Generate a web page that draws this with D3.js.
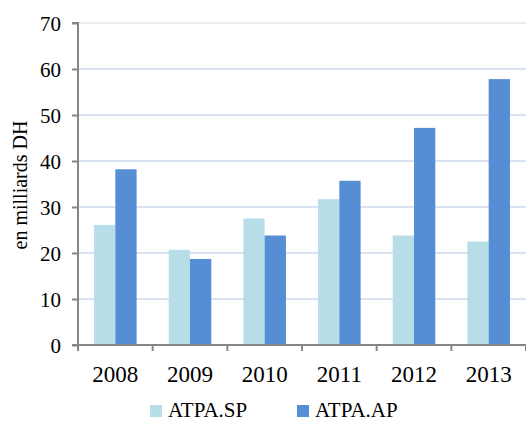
<!DOCTYPE html>
<html><head><meta charset="utf-8">
<script src="https://cdn.jsdelivr.net/npm/d3@7"></script>
<style>body{margin:0;background:#fff}svg{display:block}</style>
</head><body>
<svg id="c" width="526" height="421" font-family="Liberation Serif"></svg>
<script>
const years = ["2008","2009","2010","2011","2012","2013"];
const seriesNames = ["ATPA.SP","ATPA.AP"];
const atpaSP = [26.1, 20.7, 27.5, 31.7, 23.8, 22.5];
const atpaAP = [38.2, 18.7, 23.8, 35.7, 47.2, 57.8];
const yTicks = [0,10,20,30,40,50,60,70];
const colors = ["#b7dee8","#558ed5"];
const FONT = "Liberation Serif";

const svg = d3.select("#c");
const L = 78, R = 526, T = 23, B = 345;
const x0 = d3.scaleBand().domain(years).range([L, R]).padding(0);
const groupW = x0.bandwidth() * 0.57;
const x1 = d3.scaleBand().domain(seriesNames).range([0, groupW]).padding(0);
const y = d3.scaleLinear().domain([0, 70]).range([B, T]);

// gridlines
svg.append("g").selectAll("line").data(yTicks.filter(d => d > 0)).join("line")
  .attr("x1", L).attr("x2", R).attr("y1", d => y(d)).attr("y2", d => y(d))
  .attr("stroke", d => d === 70 ? "#ececec" : "#d9e2f3").attr("stroke-width", 2);

// bars
const data = years.map((yr, i) => ({yr, vals: [atpaSP[i], atpaAP[i]]}));
const g = svg.append("g").selectAll("g").data(data).join("g")
  .attr("transform", d => `translate(${x0(d.yr) + (x0.bandwidth() - groupW) / 2},0)`);
g.selectAll("rect").data(d => d.vals.map((v, j) => ({v, s: seriesNames[j], j}))).join("rect")
  .attr("x", d => x1(d.s)).attr("width", x1.bandwidth())
  .attr("y", d => y(d.v)).attr("height", d => B - y(d.v))
  .attr("fill", d => colors[d.j]);

// y axis
const yAxis = d3.axisLeft(y).tickValues(yTicks).tickSize(6).tickPadding(11);
const ya = svg.append("g").attr("transform", `translate(${L},0)`).call(yAxis);
ya.attr("font-family", FONT);
ya.select(".domain").attr("stroke", "#868686").attr("stroke-width", 2).attr("d", `M-6,${T}H0V${B}`);
ya.selectAll(".tick line").attr("stroke", "#868686").attr("stroke-width", 2);
ya.selectAll(".tick text").attr("font-family", FONT).attr("font-size", 21).attr("fill", "#000").attr("dy", "0.34em");

// x axis
const xa = svg.append("g").attr("transform", `translate(0,${B})`);
xa.append("line").attr("x1", L - 6).attr("x2", R).attr("y1", 0).attr("y2", 0).attr("stroke", "#868686").attr("stroke-width", 2);
const bounds = years.map(d => x0(d)).concat([R]);
xa.selectAll("line.tk").data(bounds).join("line").attr("class", "tk")
  .attr("x1", d => d).attr("x2", d => d).attr("y1", 0).attr("y2", 6)
  .attr("stroke", "#868686").attr("stroke-width", 2);
xa.selectAll("text").data(years).join("text")
  .attr("x", d => x0(d) + x0.bandwidth() / 2).attr("y", 37)
  .attr("text-anchor", "middle").attr("font-family", FONT).attr("font-size", 23).attr("fill", "#000").text(d => d);

// y title
svg.append("text").attr("transform", `translate(27,${185}) rotate(-90)`)
  .attr("text-anchor", "middle").attr("font-family", FONT).attr("font-size", 20).attr("fill", "#000").text("en milliards DH");

// legend
const legX = [150, 297];
const lg = svg.append("g").selectAll("g").data(seriesNames).join("g")
  .attr("transform", (d, i) => `translate(${legX[i]},0)`);
lg.append("rect").attr("x", 0).attr("y", 405).attr("width", 12).attr("height", 12).attr("fill", (d, i) => colors[i]);
lg.append("text").attr("x", 18).attr("y", 417).attr("font-family", FONT).attr("font-size", 21).attr("fill", "#000").text(d => d);
</script>
</body></html>
